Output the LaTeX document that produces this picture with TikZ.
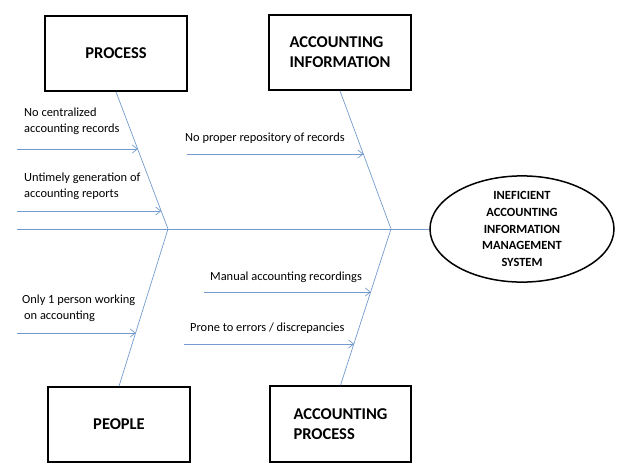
\documentclass[tikz,border=0pt]{standalone}
\usepackage{fontspec}
\setmainfont{Carlito}
\usetikzlibrary{shapes,shapes.geometric,calc,arrows.meta}
\definecolor{bonecol}{RGB}{115,155,205}

\begin{document}
\begin{tikzpicture}
        [x=1pt,y=-1pt,
        box/.style={shape=rectangle,draw,line width=1.6pt,minimum width=142pt,
        minimum height=75pt,align=left,font=\fontsize{16.5}{20}\selectfont\bfseries},
        effect/.style={shape=ellipse,draw,line width=1.5pt,minimum width=184pt,
        minimum height=105pt,inner sep=0pt,align=center,font=\fontsize{12.5}{16.7}\selectfont\bfseries},
        cause/.style={anchor=west,align=left,inner sep=0pt,font=\fontsize{12.4}{16}\selectfont},
        bone/.style={draw=bonecol,line width=0.7pt},
        arr/.style={bone,-{Straight Barb[length=5pt,width=8pt]}}]
        \useasboundingbox (0,0) rectangle (633,467);
		% heads of the bones
		\node[box] (process) at (116,53.5) {PROCESS};
		\node[box] (accinfo) at (340,52.5) {ACCOUNTING\\INFORMATION};
		\node[box] (people) at (119,424.5) {PEOPLE};
		\node[box,minimum width=141pt,minimum height=76pt] (accproc) at (340.5,424) {ACCOUNTING\\PROCESS};
		\node[effect] (problem) at (522,229) {INEFICIENT\\ACCOUNTING\\INFORMATION\\MANAGEMENT\\SYSTEM};
		% spine
		\coordinate (tail) at (17,229);
		\coordinate (j1) at (168,229);
		\coordinate (j2) at (391,229);
		\draw[bone] (tail) -- (problem.west);
		\draw[bone] (process.south) -- (j1) -- (people.north);
		\draw[bone] (accinfo.south) -- (j2) -- (accproc.north);
		% causes
		\coordinate (s1) at (17,149);
		\coordinate (e1) at ($(process.south)!.42!(j1)$);
		\draw[arr] (s1) -- (s1 -| e1);
		\node[cause] (c1) at (24,121) {No centralized\\accounting records};
		\coordinate (s2) at (17,211);
		\coordinate (e2) at ($(process.south)!.87!(j1)$);
		\draw[arr] (s2) -- (s2 -| e2);
		\node[cause] (c2) at (24,186) {Untimely generation of\\accounting reports};
		\coordinate (s3) at (187,154);
		\coordinate (e3) at ($(accinfo.south)!.46!(j2)$);
		\draw[arr] (s3) -- (s3 -| e3);
		\node[cause] (c3) at (185,138) {No proper repository of records};
		\coordinate (s4) at (17,333);
		\coordinate (e4) at ($(j1)!.658!(people.north)$);
		\draw[arr] (s4) -- (s4 -| e4);
		\node[cause] (c4) at (22,308) {Only 1 person working\\\hspace{2pt}on accounting};
		\coordinate (s5) at (204,292);
		\coordinate (e5) at ($(j2)!.40!(accproc.north)$);
		\draw[arr] (s5) -- (s5 -| e5);
		\node[cause] (c5) at (210,277) {Manual accounting recordings};
		\coordinate (s6) at (184,344);
		\coordinate (e6) at ($(j2)!.73!(accproc.north)$);
		\draw[arr] (s6) -- (s6 -| e6);
		\node[cause] (c6) at (190,328) {Prone to errors / discrepancies};
	\end{tikzpicture}
\end{document}
